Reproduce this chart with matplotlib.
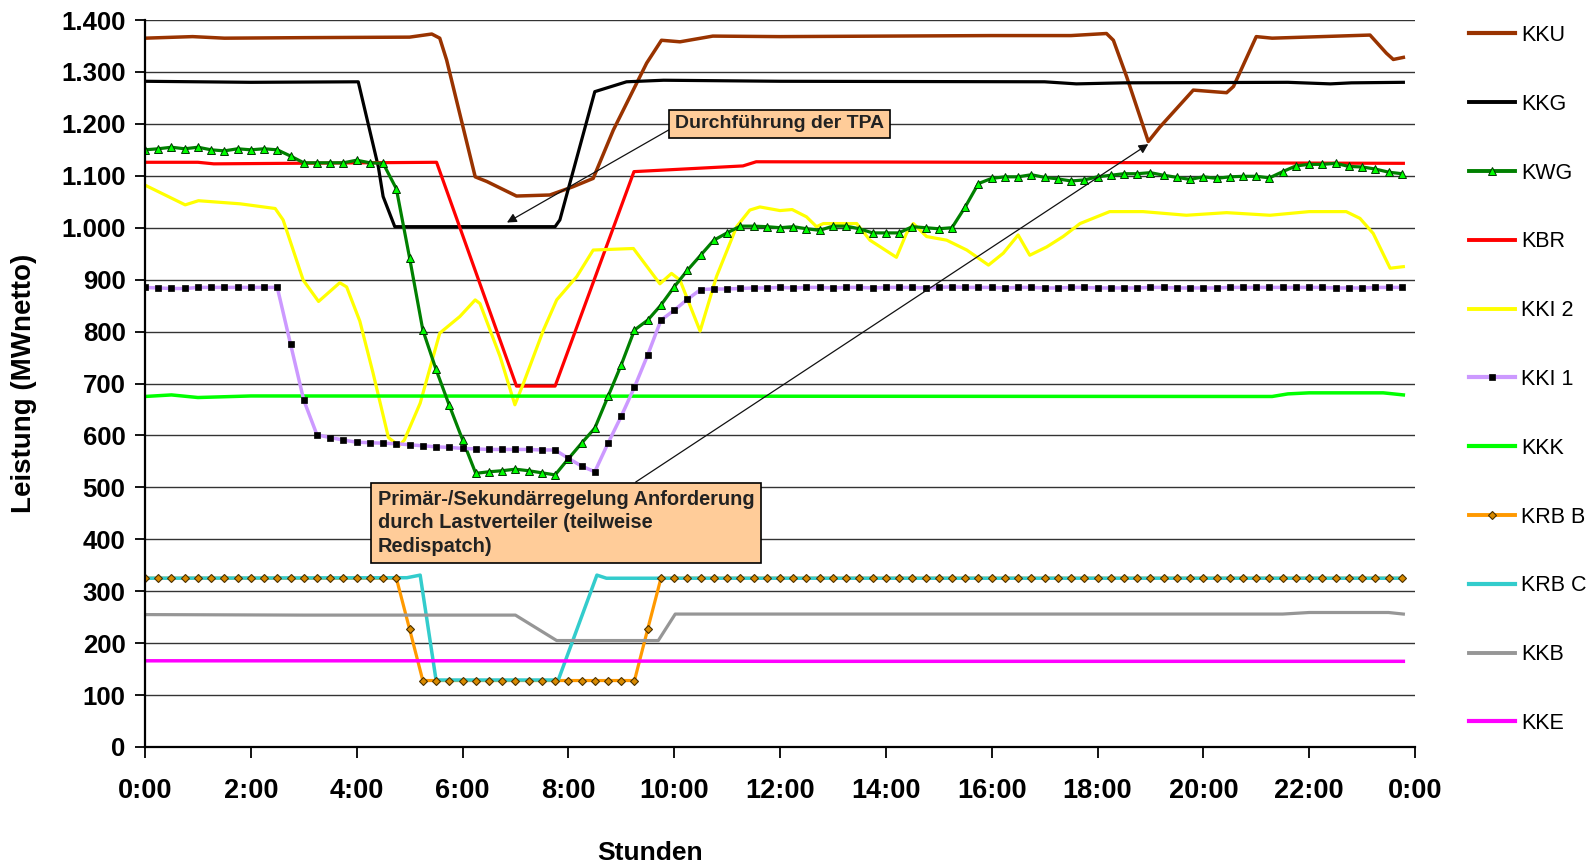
import numpy as np
import matplotlib
matplotlib.use('Agg')
import matplotlib.pyplot as plt
from matplotlib.lines import Line2D

plt.rcParams['font.family'] = ['Liberation Sans', 'DejaVu Sans']

# ---------------- data ----------------
# 15-minute samples (series drawn with markers)
t15 = np.arange(96) * 0.25

kwg = [1150, 1152, 1155, 1152, 1155, 1150, 1148, 1152,
       1150, 1152, 1150, 1138, 1125, 1125, 1125, 1125,
       1130, 1125, 1124, 1075, 942, 803, 727, 658,
       592, 527, 530, 532, 535, 532, 528, 524,
       555, 585, 614, 675, 736, 803, 822, 851,
       886, 918, 947, 976, 990, 1003, 1003, 1002,
       1000, 1002, 998, 995, 1003, 1003, 998, 990,
       990, 990, 1002, 1000, 998, 1000, 1040, 1085,
       1095, 1098, 1098, 1102, 1097, 1094, 1090, 1092,
       1098, 1101, 1104, 1104, 1106, 1101, 1097, 1093,
       1098, 1095, 1098, 1099, 1099, 1096, 1108, 1119,
       1122, 1122, 1124, 1118, 1117, 1113, 1107, 1104]

kki1 = [885, 884, 883, 883, 885, 885, 885, 885,
        885, 885, 885, 776, 668, 601, 596, 591,
        587, 586, 585, 584, 582, 580, 578, 577,
        575, 574, 573, 573, 573, 573, 572, 572,
        556, 541, 530, 585, 637, 693, 755, 822,
        841, 862, 881, 882, 882, 883, 884, 884,
        885, 884, 885, 885, 884, 885, 885, 884,
        885, 885, 885, 884, 885, 886, 885, 885,
        885, 884, 885, 885, 884, 884, 885, 885,
        884, 884, 884, 884, 885, 885, 884, 884,
        884, 884, 885, 885, 885, 885, 885, 885,
        885, 885, 884, 884, 884, 885, 885, 885]

krbb = [325, 325, 325, 325, 325, 325, 325, 325,
        325, 325, 325, 325, 325, 325, 325, 325,
        325, 325, 325, 325, 227, 128, 128, 128,
        128, 128, 128, 128, 128, 128, 128, 128,
        128, 128, 128, 128, 128, 128, 227, 325,
        325, 325, 325, 325, 325, 325, 325, 325,
        325, 325, 325, 325, 325, 325, 325, 325,
        325, 325, 325, 325, 325, 325, 325, 325,
        325, 325, 325, 325, 325, 325, 325, 325,
        325, 325, 325, 325, 325, 325, 325, 325,
        325, 325, 325, 325, 325, 325, 325, 325,
        325, 325, 325, 325, 325, 325, 325, 325]

# line-only series: (hour, MW)
kku_h = [0, 0.9, 1.5, 3.0, 5.0, 5.42, 5.57, 5.70, 6.24, 6.46, 7.02, 7.65, 8.09,
         8.47, 8.85, 9.48, 9.76, 10.11, 10.73, 12, 14, 16, 17.5, 18.17, 18.3,
         18.55, 18.96, 19.18, 19.81, 20.44, 20.57, 21.0, 21.3, 23.15, 23.46,
         23.59, 23.78]
kku_v = [1365, 1368, 1365, 1366, 1367, 1373, 1365, 1323, 1098, 1089, 1061, 1063,
         1079, 1095, 1188, 1317, 1361, 1358, 1369, 1368, 1369, 1370, 1370, 1374,
         1361, 1291, 1166, 1194, 1265, 1260, 1272, 1368, 1365, 1371, 1336, 1324,
         1328]

kkg_h = [0, 2.0, 4.03, 4.41, 4.5, 4.72, 7.75, 7.84, 8.5, 9.1, 9.8, 12, 17,
         17.6, 18.5, 21.6, 22.4, 22.8, 23.78]
kkg_v = [1282, 1280, 1281, 1117, 1060, 1002, 1002, 1015, 1262, 1281, 1284, 1282,
         1281, 1277, 1279, 1280, 1277, 1279, 1280]

kbr_h = [0, 1.0, 1.3, 5.51, 7.02, 7.75, 9.24, 11.3, 11.55, 16, 23.78]
kbr_v = [1126, 1126, 1123, 1126, 695, 695, 1108, 1119, 1127, 1126, 1124]

kki2_h = [0, 0.76, 1.01, 1.8, 2.46, 2.61, 2.99, 3.28, 3.68, 3.81, 4.06, 4.31,
          4.6, 4.8, 4.9, 5.2, 5.57, 5.95, 6.24, 6.33, 6.71, 6.99, 7.15, 7.53,
          7.78, 8.16, 8.47, 9.23, 9.73, 9.95, 10.11, 10.49, 10.8, 11.18, 11.43,
          11.62, 12.0, 12.23, 12.5, 12.69, 12.82, 13.45, 13.7, 14.2, 14.39,
          14.52, 14.77, 15.15, 15.53, 15.94, 16.22, 16.5, 16.72, 17.04, 17.35,
          17.67, 18.23, 18.86, 19.68, 20.44, 21.26, 22.0, 22.7, 22.96, 23.21,
          23.53, 23.78]
kki2_v = [1082, 1044, 1052, 1046, 1037, 1015, 899, 858, 894, 886, 820, 720,
          596, 580, 591, 662, 797, 829, 861, 854, 752, 659, 700, 803,
          861, 906, 957, 960, 892, 912, 899, 801, 906, 1002, 1034,
          1040, 1033, 1035, 1021, 1002, 1008, 1008, 976, 943, 989,
          1008, 983, 976, 957, 928, 951, 986, 947, 963, 983,
          1008, 1031, 1031, 1024, 1029, 1024, 1031, 1031, 1018, 989,
          922, 925]

kkk_h = [0, 0.5, 1.0, 2.0, 21.3, 21.6, 22.0, 23.4, 23.78]
kkk_v = [675, 678, 673, 676, 675, 680, 682, 682, 678]

krbc_h = [0, 4.95, 5.2, 5.5, 7.81, 8.54, 8.72, 23.78]
krbc_v = [325, 326, 331, 129, 129, 331, 325, 325]

kkb_h = [0, 3, 7.0, 7.78, 9.7, 10.02, 21.5, 22.0, 23.5, 23.78]
kkb_v = [255, 254, 254, 205, 205, 256, 256, 259, 259, 256]

kke_h = [0, 6, 12, 18, 23.78]
kke_v = [166, 166, 165, 165, 165]

series_names = ['KKU', 'KKG', 'KWG', 'KBR', 'KKI 2', 'KKI 1', 'KKK',
                'KRB B', 'KRB C', 'KKB', 'KKE']

x_ticks = [0, 2, 4, 6, 8, 10, 12, 14, 16, 18, 20, 22, 24]
x_labels = ['0:00', '2:00', '4:00', '6:00', '8:00', '10:00', '12:00', '14:00',
            '16:00', '18:00', '20:00', '22:00', '0:00']
y_ticks = [0, 100, 200, 300, 400, 500, 600, 700, 800, 900, 1000, 1100, 1200,
           1300, 1400]
y_labels = ['0', '100', '200', '300', '400', '500', '600', '700', '800', '900',
            '1.000', '1.100', '1.200', '1.300', '1.400']

# ---------------- styles ----------------
st = {
    'KKU':   dict(color='#993300', lw=2.5),
    'KKG':   dict(color='#000000', lw=2.3),
    'KWG':   dict(color='#008000', lw=2.3, marker='^', ms=5.5, mfc='#00FF00',
                  mec='#003300', mew=0.7),
    'KBR':   dict(color='#FF0000', lw=2.3),
    'KKI 2': dict(color='#FFFF00', lw=2.3),
    'KKI 1': dict(color='#CC99FF', lw=2.5, marker='s', ms=4.2, mfc='black',
                  mec='black', mew=0.5),
    'KKK':   dict(color='#00FF00', lw=2.5),
    'KRB B': dict(color='#FF9900', lw=2.3, marker='D', ms=4.0, mfc='#D98A00',
                  mec='#4A3000', mew=0.8),
    'KRB C': dict(color='#33CCCC', lw=2.5),
    'KKB':   dict(color='#969696', lw=2.3),
    'KKE':   dict(color='#FF00FF', lw=2.5),
}

fig = plt.figure(figsize=(15.94, 8.67), dpi=100)
ax = fig.add_axes([145 / 1594, 1 - 747 / 867, 1270 / 1594, 727 / 867])

ax.plot(kku_h, kku_v, **st['KKU'], zorder=2)
ax.plot(kkg_h, kkg_v, **st['KKG'], zorder=2)
ax.plot(kbr_h, kbr_v, **st['KBR'], zorder=2)
ax.plot(t15, kwg, **st['KWG'], zorder=2.2)
ax.plot(kki2_h, kki2_v, **st['KKI 2'], zorder=2)
ax.plot(t15, kki1, **st['KKI 1'], zorder=2.2)
ax.plot(kkk_h, kkk_v, **st['KKK'], zorder=2)
krbb_line = {k: v for k, v in st['KRB B'].items() if k in ('color', 'lw')}
krbb_mark = {k: v for k, v in st['KRB B'].items() if k not in ('color', 'lw')}
ax.plot(t15, krbb, **krbb_line, zorder=2)
ax.plot(krbc_h, krbc_v, **st['KRB C'], zorder=2)
ax.plot(t15, krbb, ls='none', **krbb_mark, zorder=2.3)
ax.plot(kkb_h, kkb_v, **st['KKB'], zorder=2)
ax.plot(kke_h, kke_v, **st['KKE'], zorder=2.4)

ax.set_xlim(0, 24)
ax.set_ylim(0, 1400)
ax.set_yticks(y_ticks)
ax.set_yticklabels(y_labels, fontsize=18.5, fontweight='bold')
ax.set_xticks(x_ticks)
ax.set_xticklabels(x_labels, fontsize=19.5, fontweight='bold')
ax.tick_params(axis='y', length=7, width=1.3, pad=7, colors='black')
ax.tick_params(axis='x', length=8, width=1.3, pad=14, colors='black')
ax.yaxis.grid(True, color='#333333', lw=1.0)
ax.set_axisbelow(True)
for s in ('top', 'right'):
    ax.spines[s].set_visible(False)
for s in ('left', 'bottom'):
    ax.spines[s].set_linewidth(1.6)

ax.set_ylabel('Leistung (MWnetto)', fontsize=20, fontweight='bold')
ax.yaxis.set_label_coords(-0.085, 0.5)
ax.set_xlabel('Stunden', fontsize=19, fontweight='bold')
ax.xaxis.set_label_coords(0.3976, -0.129)

box1 = dict(boxstyle='square,pad=0.3', fc='#FFCC99', ec='black', lw=1.2)
box2 = dict(boxstyle='square,pad=0.35', fc='#FFCC99', ec='black', lw=1.2)
ax.annotate('Durchführung der TPA', xy=(6.84, 1010), xytext=(10.02, 1200),
            ha='left', va='center', fontsize=14, fontweight='bold',
            color='#222222', bbox=box1, zorder=5,
            arrowprops=dict(arrowstyle='-|>', color='#111111', lw=0.9,
                            shrinkA=0, shrinkB=0, mutation_scale=14,
                            relpos=(0, 0.36)))
ax.annotate('Primär-/Sekundärregelung Anforderung\ndurch Lastverteiler (teilweise\nRedispatch)',
            xy=(18.96, 1161), xytext=(4.40, 432),
            ha='left', va='center', fontsize=14.4, fontweight='bold',
            color='#222222', bbox=box2, linespacing=1.3, zorder=5,
            arrowprops=dict(arrowstyle='-|>', color='#111111', lw=0.9,
                            shrinkA=0, shrinkB=0, mutation_scale=14,
                            relpos=(0.654, 1.0)))

handles = []
for name in series_names:
    s = st[name]
    handles.append(Line2D([], [], color=s['color'], lw=s['lw'] + 0.5,
                          marker=s.get('marker', None), ms=s.get('ms', 0),
                          mfc=s.get('mfc', None), mec=s.get('mec', None),
                          mew=s.get('mew', 1)))
fig.legend(handles, series_names, loc='upper left',
           bbox_to_anchor=(1469 / 1594, 1 - 25 / 867), frameon=False,
           fontsize=15.5, handlelength=2.15, handletextpad=0.28,
           labelspacing=2.22, borderpad=0, borderaxespad=0, markerscale=1.0)

fig.savefig('out.png', dpi=100, facecolor='white')
